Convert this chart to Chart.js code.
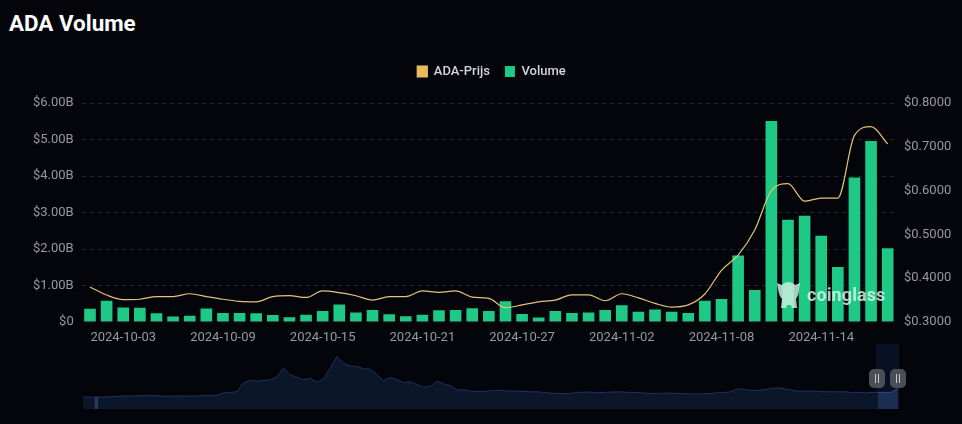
<!DOCTYPE html>
<html>
<head>
<meta charset="utf-8">
<title>ADA Volume</title>
<script src="https://cdn.jsdelivr.net/npm/chart.js@4/dist/chart.umd.min.js"></script>
<style>
  html, body { margin: 0; padding: 0; background: #04050b; }
  body { width: 962px; height: 424px; position: relative; overflow: hidden; font-family: Roboto, sans-serif; }
  #title { position: absolute; left: 9px; top: 10px; margin: 0; font-size: 22.4px; line-height: 26px; font-weight: 700; color: #fff; }
  #main { position: absolute; left: 0; top: 0; }
  #brush { position: absolute; left: 876px; top: 344px; width: 23px; height: 65px; background: #0a1024; }
  #navWrap { position: absolute; left: 83px; top: 356px; width: 815px; height: 53px; }
  .handle { position: absolute; top: 369px; width: 16px; height: 19px; border-radius: 5px; background: #4b4e57; }
  .handle::before, .handle::after { content: ""; position: absolute; top: 5px; width: 1px; height: 9px; background: #c5c7cc; }
  .handle::before { left: 6px; }
  .handle::after { left: 9px; }
  #mark { position: absolute; left: 776px; top: 280px; width: 112px; height: 30px; pointer-events: none; }
  #mark svg { position: absolute; left: 0; top: 0; }
  #mark span { position: absolute; left: 31px; top: 2px; font-size: 18px; line-height: 26px; font-weight: 700; letter-spacing: 0.1px; color: rgba(225, 245, 236, 0.8); }
</style>
</head>
<body>
<h1 id="title">ADA Volume</h1>
<canvas id="main" width="962" height="424"></canvas>
<div id="brush"></div>
<div id="navWrap"><canvas id="nav" width="815" height="53"></canvas></div>
<div class="handle" style="left:869px"></div>
<div class="handle" style="left:890px"></div>
<div id="mark">
  <svg width="26" height="30" viewBox="0 0 26 30">
    <path d="M1 3 L6 5 C9 1 16 1 19 5 L24 3 L23 9 C23 15 21 17 20 19 L21 28 L16 28 L15 25 L11 25 L10 28 L5 28 L6 19 C4 17 3 14 2 9 Z" fill="rgba(200,238,222,0.85)"/>
  </svg>
  <span>coinglass</span>
</div>
<script>
const dates = [
  "2024-10-01", "2024-10-02", "2024-10-03", "2024-10-04", "2024-10-05", "2024-10-06", "2024-10-07",
  "2024-10-08", "2024-10-09", "2024-10-10", "2024-10-11", "2024-10-12", "2024-10-13", "2024-10-14",
  "2024-10-15", "2024-10-16", "2024-10-17", "2024-10-18", "2024-10-19", "2024-10-20", "2024-10-21",
  "2024-10-22", "2024-10-23", "2024-10-24", "2024-10-25", "2024-10-26", "2024-10-27", "2024-10-28",
  "2024-10-29", "2024-10-30", "2024-10-31", "2024-11-01", "2024-11-02", "2024-11-03", "2024-11-04",
  "2024-11-05", "2024-11-06", "2024-11-07", "2024-11-08", "2024-11-09", "2024-11-10", "2024-11-11",
  "2024-11-12", "2024-11-13", "2024-11-14", "2024-11-15", "2024-11-16", "2024-11-17", "2024-11-18"
];

// volume in billions of USD
const volume = [
  0.36, 0.58, 0.40, 0.39, 0.24, 0.15, 0.17, 0.37, 0.245, 0.245, 0.24, 0.19, 0.13, 0.20,
  0.30, 0.48, 0.26, 0.33, 0.21, 0.155, 0.20, 0.32, 0.33, 0.38, 0.30, 0.57, 0.22, 0.12,
  0.30, 0.245, 0.26, 0.33, 0.46, 0.28, 0.345, 0.28, 0.245, 0.58, 0.63, 1.82, 0.88, 5.51,
  2.80, 2.91, 2.36, 1.51, 3.96, 4.96, 2.02
];

const price = [
  0.380, 0.3615, 0.351, 0.352, 0.358, 0.358, 0.3645, 0.358, 0.352, 0.347, 0.346, 0.358, 0.360, 0.356,
  0.371, 0.367, 0.360, 0.350, 0.358, 0.358, 0.371, 0.3675, 0.371, 0.357, 0.354, 0.3326, 0.339, 0.346,
  0.350, 0.362, 0.362, 0.3485, 0.3645, 0.355, 0.3425, 0.334, 0.339, 0.364, 0.418, 0.4525, 0.510, 0.600,
  0.616, 0.576, 0.583, 0.583, 0.726, 0.746, 0.7067
];

// overview strip, relative height of the long-range price line
const navHistory = [
  36, 36, 36, 36, 37, 38, 39, 39, 40, 41, 41, 40, 39, 39, 39, 39, 39, 39, 41, 41, 41, 48, 50, 52,
  78, 86, 84, 86, 88, 96, 123, 103, 96, 88, 93, 81, 90, 123, 158, 138, 130, 128, 122, 120,
  103, 85, 96, 88, 80, 82, 73, 66, 68, 84, 76, 70, 58, 58, 54, 53, 53, 55, 57, 55, 54, 54,
  53, 52, 52, 50, 48, 47, 46, 47, 50, 51, 51, 49, 50, 51, 52, 51, 50, 50, 48, 47, 47, 48, 48,
  47, 46, 46, 46, 46, 47, 49, 50, 52, 61, 59, 56, 56, 58, 62, 64, 61, 57, 54, 54, 54, 53, 52,
  52, 52, 52, 50, 50, 49, 50, 50, 50, 50, 62
];
const navGap = [null, null, 36];
const navSelectedFrom = 119;

const tickColor = "#98999d";
const tickFont = { family: "Roboto", size: 13 };

// pushes the plot area down from the legend
const legendGap = {
  id: "legendGap",
  beforeInit: function (chart) {
    const fit = chart.legend.fit;
    chart.legend.fit = function () {
      fit.call(this);
      this.height += 15;
    };
  }
};

new Chart(document.getElementById("main"), {
  plugins: [legendGap],
  data: {
    labels: dates,
    datasets: [
      {
        label: "ADA-Prijs",
        type: "line",
        data: price,
        yAxisID: "y1",
        borderColor: "#e6c277",
        backgroundColor: "#e9bb58",
        borderWidth: 1.2,
        pointRadius: 0,
        tension: 0.4,
        cubicInterpolationMode: "monotone",
        order: 1
      },
      {
        label: "Volume",
        type: "bar",
        data: volume,
        yAxisID: "y",
        backgroundColor: "#1ec986",
        borderColor: "#1ec986",
        barPercentage: 0.7,
        categoryPercentage: 1,
        order: 2
      }
    ]
  },
  options: {
    responsive: false,
    animation: false,
    layout: { padding: { top: 50, left: 21, right: 0, bottom: 70 } },
    plugins: {
      tooltip: { enabled: false },
      legend: {
        position: "top",
        align: "center",
        labels: {
          color: "#d4d5d8",
          boxWidth: 10,
          boxHeight: 11,
          padding: 15,
          font: { family: "Roboto", size: 13, weight: "500" }
        }
      }
    },
    scales: {
      x: {
        grid: { display: false, drawTicks: false },
        border: { display: false },
        ticks: {
          color: tickColor,
          font: tickFont,
          maxRotation: 0,
          autoSkip: false,
          padding: 8,
          // every sixth day carries a label
          callback: function (value, idx) { return idx % 6 === 2 ? dates[idx] : ""; }
        },
        afterFit: function (axis) { axis.height = 32; }
      },
      y: {
        position: "left",
        min: 0,
        max: 6,
        grid: {
          color: function (ctx) { return ctx.tick.value === 0 ? "transparent" : "rgba(255,255,255,0.13)"; },
          drawTicks: false
        },
        border: { display: false, dash: [4, 4] },
        ticks: {
          color: tickColor,
          font: tickFont,
          padding: 8,
          stepSize: 1,
          callback: function (value) { return value === 0 ? "$0" : "$" + value.toFixed(2) + "B"; }
        },
        afterFit: function (axis) { axis.width = 60.7; }
      },
      y1: {
        position: "right",
        min: 0.3,
        max: 0.8,
        grid: { display: false, drawTicks: false },
        border: { display: false },
        ticks: {
          color: tickColor,
          font: tickFont,
          padding: 8,
          stepSize: 0.1,
          callback: function (value) { return "$" + value.toFixed(4); }
        },
        afterFit: function (axis) { axis.width = 66; }
      }
    }
  }
});

new Chart(document.getElementById("nav"), {
  data: {
    labels: navHistory.map(function (_, i) { return i; }),
    datasets: [
      {
        type: "line",
        data: navHistory,
        borderColor: "#1d3263",
        backgroundColor: "#0c1629",
        borderWidth: 1,
        pointRadius: 0,
        fill: "origin",
        order: 2
      },
      {
        type: "line",
        data: navHistory.map(function (v, i) { return i >= navSelectedFrom ? v : null; }),
        borderColor: "#2b4a8c",
        backgroundColor: "#1d2c52",
        borderWidth: 1,
        pointRadius: 0,
        fill: "origin",
        order: 1
      },
      {
        type: "bar",
        data: navGap,
        backgroundColor: "#26365c",
        barThickness: 3,
        order: 0
      }
    ]
  },
  options: {
    responsive: false,
    animation: false,
    layout: { padding: 0 },
    plugins: { legend: { display: false }, tooltip: { enabled: false } },
    scales: {
      x: { display: false, offset: false },
      y: { display: false, min: 0, max: 160 }
    }
  }
});
</script>
</body>
</html>
